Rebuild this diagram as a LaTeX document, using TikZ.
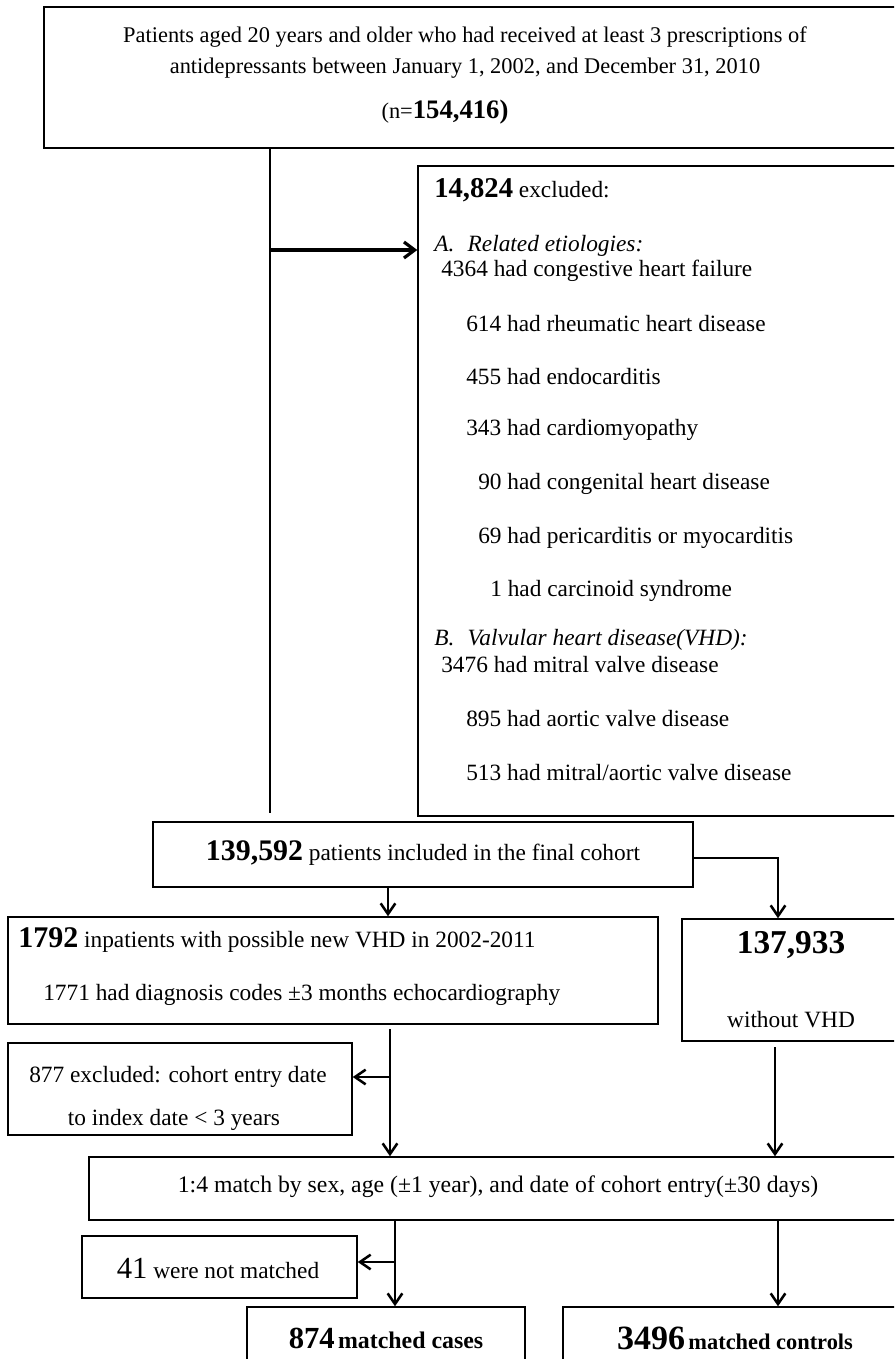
\documentclass[tikz,border=0pt]{standalone}
\usepackage{fontspec}
\setmainfont{Liberation Serif}
\usetikzlibrary{arrows.meta}
\tikzset{
  box/.style={draw, line width=1.1pt, inner sep=0pt},
  conn/.style={line width=1pt},
  arr/.style={line width=1pt, -{Straight Barb[length=8pt,width=11pt,line width=1.9pt]}},
  thickarr/.style={line width=2.4pt, -{Straight Barb[length=8pt,width=12pt,line width=2.4pt]}},
  txt/.style={inner sep=0pt, font=\fontsize{17.5}{20}\selectfont},
  toptxt/.style={inner sep=0pt, font=\fontsize{16.8}{20}\selectfont},
}
\newcommand{\bnum}[2]{{\fontsize{#1}{#1}\selectfont\bfseries #2}}
\begin{document}
\begin{tikzpicture}[x=0.75pt,y=-0.75pt]
\useasboundingbox (0,0) rectangle (894,1359);
\clip (0,0) rectangle (894,1359);
\fill[white] (0,0) rectangle (894,1359);

% boxes
\node[box, minimum width=645.75pt, minimum height=105.75pt] (top) at (474.5,77.5) {};
\node[box, minimum width=365.25pt, minimum height=487.5pt] (excl) at (661.5,491) {};
\node[box, minimum width=405pt, minimum height=48.75pt] (final) at (423,854.5) {};
\node[box, minimum width=487.5pt, minimum height=80.25pt] (vhd) at (333,970.5) {};
\node[box, minimum width=167.25pt, minimum height=91.5pt] (novhd) at (793.5,980) {};
\node[box, minimum width=258pt, minimum height=69pt] (ex877) at (180,1089) {};
\node[box, minimum width=612pt, minimum height=47.25pt] (match) at (497,1188.5) {};
\node[box, minimum width=206.25pt, minimum height=46.5pt] (notm) at (219.5,1267) {};
\node[box, minimum width=208.5pt, minimum height=60pt] (cases) at (386,1347) {};
\node[box, minimum width=256.5pt, minimum height=60pt] (ctrls) at (734,1347) {};

% top box text
\node[toptxt] (t1) at (465,37) {Patients aged 20 years and older who had received at least 3 prescriptions of};
\node[toptxt] (t2) at (465,68) {antidepressants between January 1, 2002, and December 31, 2010};
\node[inner sep=0pt] (t3) at (445,112) {{\fontsize{16.8}{20}\selectfont(n=}\bnum{20}{154,416)}};

% excluded box text
\node[txt, anchor=west] (e0) at (434,190) {\bnum{21.5}{14,824} excluded:};
\node[txt, anchor=west] (ea) at (434,246) {\itshape A.\hspace{10pt}Related etiologies:};
\node[txt, anchor=west] (e1) at (441,271) {4364 had congestive heart failure};
\node[txt, anchor=west] (e2) at (466,324) {614 had rheumatic heart disease};
\node[txt, anchor=west] (e3) at (466,377) {455 had endocarditis};
\node[txt, anchor=west] (e4) at (466,430) {343 had cardiomyopathy};
\node[txt, anchor=west] (e5) at (478,484) {90 had congenital heart disease};
\node[txt, anchor=west] (e6) at (478,538) {69 had pericarditis or myocarditis};
\node[txt, anchor=west] (e7) at (490,591) {1 had carcinoid syndrome};
\node[txt, anchor=west] (eb) at (434,640) {\itshape B.\hspace{10pt}Valvular heart disease(VHD):};
\node[txt, anchor=west] (e8) at (441,665) {3476 had mitral valve disease};
\node[txt, anchor=west] (e9) at (466,719) {895 had aortic valve disease};
\node[txt, anchor=west] (e10) at (466,773) {513 had mitral/aortic valve disease};

% other texts
\node[txt] (f1) at (423,853) {\bnum{22.4}{139,592} patients included in the final cohort};
\node[txt, anchor=west] (v1) at (18,940) {\bnum{22.5}{1792} inpatients with possible new VHD in 2002-2011};
\node[txt, anchor=west] (v2) at (43,995) {1771 had diagnosis codes ±3 months echocardiography};
\node[inner sep=0pt] (n1) at (791,945) {\bnum{25}{137,933}};
\node[txt] (n2) at (791,1020) {without VHD};
\node[txt] (x1) at (178,1077) {877 excluded: cohort entry date};
\node[txt] (x2) at (174,1120) {to index date < 3 years};
\node[inner sep=0pt, font=\fontsize{17.8}{20}\selectfont] (m1) at (498,1187) {1:4 match by sex, age (±1 year), and date of cohort entry(±30 days)};
\node[txt] (nm) at (218,1268) {{\fontsize{23}{23}\selectfont 41} were not matched};
\node[inner sep=0pt] (c1) at (386,1338) {\bnum{23}{874} {\bfseries\fontsize{17.9}{20}\selectfont matched cases}};
\node[inner sep=0pt] (c2) at (735,1338) {\bnum{25.5}{3496} {\bfseries\fontsize{16.8}{20}\selectfont matched controls}};

% connectors
\coordinate (s0) at (270,148);
\coordinate (s1) at (270,813);
\coordinate (s2) at (270,250);
\draw[conn] (s0) -- (s1);
\draw[thickarr] (s2) -- (s2 -| excl.west);

\coordinate (f0) at (388,887);
\draw[arr] (f0) -- (f0 |- vhd.north);
\coordinate (fr) at (693,858);
\coordinate (fk) at (778,858);
\draw[arr] (fr) -- (fk) -- (fk |- novhd.north);

\coordinate (v0) at (390,1029);
\coordinate (vb) at (390,1077);
\draw[arr] (v0) -- (v0 |- match.north);
\draw[arr] (vb) -- (vb -| ex877.east);

\coordinate (n0) at (775,1047);
\draw[arr] (n0) -- (n0 |- match.north);

\coordinate (m0) at (395,1220);
\coordinate (mb) at (395,1262);
\draw[arr] (m0) -- (m0 |- cases.north);
\draw[arr] (mb) -- (mb -| notm.east);
\coordinate (r0) at (778,1220);
\draw[arr] (r0) -- (r0 |- ctrls.north);
\end{tikzpicture}
\end{document}
